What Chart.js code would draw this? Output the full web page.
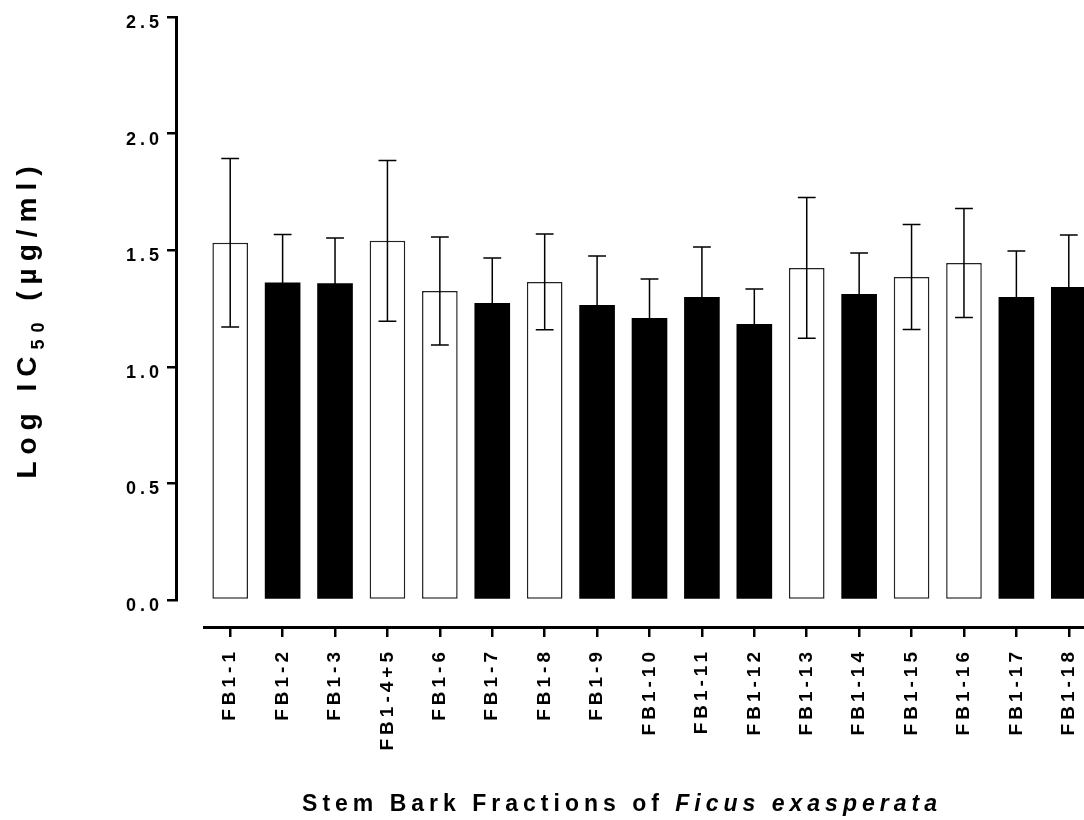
<!DOCTYPE html>
<html>
<head>
<meta charset="utf-8">
<script src="https://cdn.jsdelivr.net/npm/chart.js@4.4.0/dist/chart.umd.min.js"></script>
<style>
  html, body { margin: 0; padding: 0; overflow: hidden; background: #fff; }
  canvas { display: block; }
</style>
</head>
<body>
<canvas id="chart" width="1100" height="820"></canvas>
<script>
// data
const fractions = ['FB1-1', 'FB1-2', 'FB1-3', 'FB1-4+5', 'FB1-6', 'FB1-7', 'FB1-8', 'FB1-9', 'FB1-10',
  'FB1-11', 'FB1-12', 'FB1-13', 'FB1-14', 'FB1-15', 'FB1-16', 'FB1-17', 'FB1-18'];
const logIC50 = [1.532, 1.362, 1.358, 1.540, 1.325, 1.274, 1.364, 1.265, 1.209,
  1.299, 1.184, 1.424, 1.312, 1.385, 1.445, 1.299, 1.342];
const logIC50Sd = [0.361, 0.205, 0.194, 0.345, 0.232, 0.193, 0.205, 0.210, 0.167,
  0.215, 0.150, 0.302, 0.176, 0.225, 0.234, 0.198, 0.223];

// which bars are drawn open (white) instead of filled
const hollow = [true, false, false, true, true, false, true, false, false,
  false, false, true, false, true, true, false, false];

const FONT = '"Liberation Sans", Arial, sans-serif';

// spaced-out lettering like the original
const spacing = {
  id: 'spacing',
  beforeUpdate(chart) { chart.ctx.letterSpacing = '4px'; },
  beforeDraw(chart) { chart.ctx.letterSpacing = '4px'; }
};

const errorBars = {
  id: 'errorBars',
  afterDatasetsDraw(chart) {
    const ctx = chart.ctx;
    const y = chart.scales.y;
    const meta = chart.getDatasetMeta(0);
    ctx.save();
    ctx.strokeStyle = '#000';
    ctx.lineWidth = 1.5;
    meta.data.forEach((bar, i) => {
      const top = y.getPixelForValue(logIC50[i] + logIC50Sd[i]);
      const bottom = y.getPixelForValue(logIC50[i] - logIC50Sd[i]);
      const cap = bar.width / 4;
      ctx.beginPath();
      ctx.moveTo(bar.x, top);
      ctx.lineTo(bar.x, bottom);
      ctx.moveTo(bar.x - cap, top);
      ctx.lineTo(bar.x + cap, top);
      ctx.moveTo(bar.x - cap, bottom);
      ctx.lineTo(bar.x + cap, bottom);
      ctx.stroke();
    });
    ctx.restore();
  }
};

function drawRich(ctx, parts, x, y) {
  let w = 0;
  parts.forEach(p => { ctx.font = p[1]; w += ctx.measureText(p[0]).width; });
  let cx = x - w / 2;
  parts.forEach(p => {
    ctx.font = p[1];
    ctx.fillText(p[0], cx, y + (p[2] || 0));
    cx += ctx.measureText(p[0]).width;
  });
}

const axisTitles = {
  id: 'axisTitles',
  afterDraw(chart) {
    const ctx = chart.ctx;
    ctx.save();
    ctx.fillStyle = '#000';
    ctx.textAlign = 'left';
    ctx.textBaseline = 'alphabetic';
    ctx.letterSpacing = '5px';
    drawRich(ctx, [
      ['Stem Bark Fractions of ', 'bold 23px ' + FONT],
      ['Ficus exasperata', 'italic bold 23px ' + FONT]
    ], 622, 811);
    ctx.translate(36, 319);
    ctx.rotate(-Math.PI / 2);
    ctx.letterSpacing = '7px';
    drawRich(ctx, [
      ['Log IC', 'bold 28px ' + FONT],
      ['50', 'bold 18px ' + FONT, 8],
      [' (µg/ml)', 'bold 28px ' + FONT]
    ], 0, 0);
    ctx.restore();
  }
};

function noPad(scale) {
  scale.paddingLeft = scale.paddingRight = scale.paddingTop = scale.paddingBottom = 0;
}

new Chart(document.getElementById('chart'), {
  type: 'bar',
  data: {
    labels: fractions,
    datasets: [{
      data: logIC50,
      backgroundColor: hollow.map(h => h ? '#fff' : '#000'),
      borderColor: hollow.map(h => h ? '#222' : '#000'),
      borderWidth: hollow.map(h => h ? 1.5 : 0),
      borderSkipped: false,
      barPercentage: 0.68,
      categoryPercentage: 1
    }]
  },
  options: {
    responsive: false,
    devicePixelRatio: 1,
    animation: false,
    layout: { padding: { left: 0, top: 17, right: 5, bottom: 220 } },
    plugins: { legend: { display: false }, tooltip: { enabled: false } },
    scales: {
      x: {
        position: { y: -0.116 },
        grid: { drawOnChartArea: false, offset: false, tickLength: 8, lineWidth: 2.5, color: '#000' },
        border: { color: '#000', width: 3 },
        ticks: {
          autoSkip: false, minRotation: 90, maxRotation: 90, padding: 13, color: '#000',
          font: { family: FONT, size: 19, weight: 'bold' }
        },
        afterFit: noPad
      },
      // axis line and tick marks, set off to the left of the bars
      y: {
        position: { x: -1.034 },
        min: 0,
        max: 2.5,
        grid: { drawOnChartArea: false, tickLength: 8, lineWidth: 2.5, color: '#000' },
        border: { color: '#000', width: 3 },
        ticks: { stepSize: 0.5, display: false },
        afterFit: noPad
      },
      // tick labels of the value axis
      yLabels: {
        position: 'left',
        min: 0,
        max: 2.5,
        grid: { display: false, drawTicks: false },
        border: { display: false },
        ticks: {
          stepSize: 0.5, padding: 41, labelOffset: 6, color: '#000',
          font: { family: FONT, size: 18, weight: 'bold' },
          callback: v => v.toFixed(1)
        },
        afterFit(scale) { noPad(scale); scale.width = 204; }
      }
    }
  },
  plugins: [spacing, errorBars, axisTitles]
});
</script>
</body>
</html>
